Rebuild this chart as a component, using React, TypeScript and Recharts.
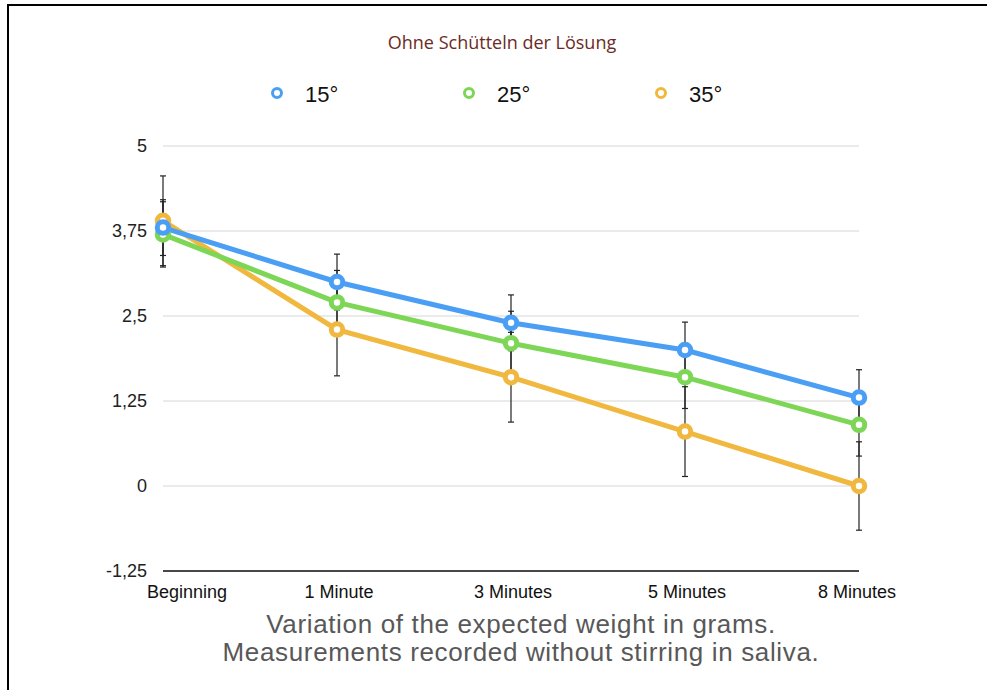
import React from 'react';
import { LineChart, Line, XAxis, YAxis, CartesianGrid, ErrorBar } from 'recharts';

const categories = ['Beginning', '1 Minute', '3 Minutes', '5 Minutes', '8 Minutes'];
const values15 = [3.8, 3.0, 2.4, 2.0, 1.3];
const values25 = [3.7, 2.7, 2.1, 1.6, 0.9];
const values35 = [3.9, 2.3, 1.6, 0.8, 0.0];
const errors15 = [0.41, 0.41, 0.41, 0.41, 0.41];
const errors25 = [0.48, 0.47, 0.47, 0.46, 0.46];
const errors35 = [0.66, 0.68, 0.66, 0.66, 0.65];
const yTicks = [-1.25, 0, 1.25, 2.5, 3.75, 5];
const seriesNames = ['15°', '25°', '35°'];
const titleText = 'Ohne Schütteln der Lösung';
const captionLines = [
  'Variation of the expected weight in grams.',
  'Measurements recorded without stirring in saliva.',
];

const COLORS = { s15: '#4A9FF5', s25: '#7DD656', s35: '#F0B83E' };
const legendColors = [COLORS.s15, COLORS.s25, COLORS.s35];

const data = categories.map((cat, i) => ({
  cat,
  s15: values15[i],
  s25: values25[i],
  s35: values35[i],
  e15: errors15[i],
  e25: errors25[i],
  e35: errors35[i],
}));

const FONT = '"Liberation Sans", Arial, Helvetica, sans-serif';

const XTick = (props: any) => {
  const { x, y, payload, index } = props;
  const last = categories.length - 1;
  const shift = index === 0 ? 24 : index === last ? -2 : 2;
  return (
    <text x={x + shift} y={y + 27} textAnchor="middle" fontSize={18} fontFamily={FONT} fill="#111">
      {payload.value}
    </text>
  );
};

const dotStyle = (color: string) => ({ r: 5.75, stroke: color, strokeWidth: 5, fill: '#ffffff' });

export default function App() {
  return (
    <div style={{ position: 'fixed', left: 0, top: 0, width: 987, height: 690, background: '#fff', fontFamily: FONT }}>
      <LineChart
        width={987}
        height={690}
        data={data}
        margin={{ top: 146, right: 128, left: 103, bottom: 89 }}
      >
        <CartesianGrid vertical={false} stroke="#d6d6d6" strokeWidth={1} />
        <XAxis
          dataKey="cat"
          scale="point"
          padding={{ left: 0, right: 0 }}
          interval={0}
          tickLine={false}
          tickSize={0}
          tickMargin={0}
          height={30}
          axisLine={{ stroke: '#111', strokeWidth: 1.5 }}
          tick={<XTick />}
        />
        <YAxis
          type="number"
          domain={[-1.25, 5]}
          ticks={yTicks}
          interval={0}
          width={60}
          tickLine={false}
          axisLine={false}
          tickSize={0}
          tickMargin={16}
          tick={{ fontSize: 18, fill: '#222', fontFamily: FONT }}
          tickFormatter={(v: number) => String(v).replace('.', ',')}
        />
        <Line type="linear" dataKey="s35" stroke={COLORS.s35} strokeWidth={5} dot={dotStyle(COLORS.s35)} activeDot={false} isAnimationActive={false} />
        <Line type="linear" dataKey="s25" stroke={COLORS.s25} strokeWidth={5} dot={dotStyle(COLORS.s25)} activeDot={false} isAnimationActive={false} />
        <Line type="linear" dataKey="s15" stroke={COLORS.s15} strokeWidth={5} dot={dotStyle(COLORS.s15)} activeDot={false} isAnimationActive={false} />
        <Line type="linear" dataKey="s35" stroke="none" dot={false} activeDot={false} legendType="none" isAnimationActive={false}>
          <ErrorBar dataKey="e35" width={3} stroke="#222" strokeWidth={1.2} isAnimationActive={false} />
        </Line>
        <Line type="linear" dataKey="s25" stroke="none" dot={false} activeDot={false} legendType="none" isAnimationActive={false}>
          <ErrorBar dataKey="e25" width={3} stroke="#222" strokeWidth={1.2} isAnimationActive={false} />
        </Line>
        <Line type="linear" dataKey="s15" stroke="none" dot={false} activeDot={false} legendType="none" isAnimationActive={false}>
          <ErrorBar dataKey="e15" width={3} stroke="#222" strokeWidth={1.2} isAnimationActive={false} />
        </Line>
      </LineChart>
      <svg width={987} height={690} style={{ position: 'absolute', left: 0, top: 0, pointerEvents: 'none' }}>
        <rect x={7} y={4} width={980} height={2} fill="#000" />
        <rect x={7} y={4} width={2} height={686} fill="#000" />
        <text x={502} y={49} textAnchor="middle" fontSize={18} fontFamily='"Open Sans", sans-serif' fill="#6B2B24">
          {titleText}
        </text>
        {seriesNames.map((name, i) => (
          <g key={name}>
            <circle cx={277 + i * 192} cy={93} r={4.5} stroke={legendColors[i]} strokeWidth={3} fill="#fff" />
            <text x={305 + i * 192} y={102} fontSize={22} fontFamily={FONT} fill="#111">
              {name}
            </text>
          </g>
        ))}
        {captionLines.map((line, i) => (
          <text key={i} x={521} y={633 + i * 28} textAnchor="middle" fontSize={26} letterSpacing={0.65} fontFamily={FONT} fill="#585858">
            {line}
          </text>
        ))}
      </svg>
    </div>
  );
}
